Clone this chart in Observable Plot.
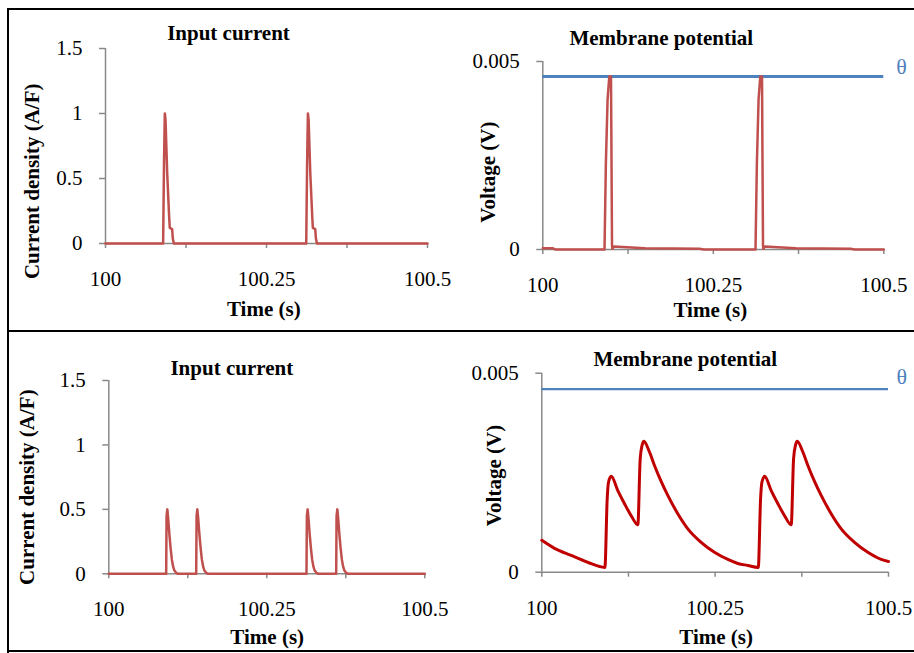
<!DOCTYPE html>
<html><head><meta charset="utf-8">
<script src="https://cdn.jsdelivr.net/npm/d3@7"></script>
<script src="https://cdn.jsdelivr.net/npm/@observablehq/plot@0.6"></script>
<style>
body{margin:0;background:#fff;}
#wrap{position:relative;width:914px;height:653px;overflow:hidden;background:#fff;font-family:"Liberation Serif","Times New Roman",serif;}
#wrap svg{position:absolute;overflow:visible;}
.fr{position:absolute;background:#000;}
</style></head><body><div id="wrap"></div>
<script>
// ---------- data ----------
const xTickValues = [100, 100.125, 100.25, 100.375, 100.5];
const xTickLabels = ["100", "", "100.25", "", "100.5"];
const currentTickValues = [0, 0.5, 1, 1.5];
const currentTickLabels = ["0", "0.5", "1", "1.5"];
const voltageTickValues = [0, 0.005];
const voltageTickLabels = ["0", "0.005"];
const theta = 0.0046;

// top row: input current (A/F)
const topCurrentT = [100, 100.0895, 100.0908, 100.0921, 100.0932, 100.0958, 100.0989, 100.0998, 100.1035, 100.1045, 100.1061,
  100.3117, 100.3130, 100.3143, 100.3154, 100.3180, 100.3211, 100.3220, 100.3257, 100.3267, 100.3283, 100.5];
const topCurrentI = [0, 0, 0.6, 1.0, 0.95, 0.54, 0.2, 0.12, 0.11, 0.04, 0,
  0, 0.6, 1.0, 0.95, 0.54, 0.2, 0.12, 0.11, 0.04, 0, 0];

// top row: membrane potential (V)
const topVoltageT = [100, 100.015, 100.018, 100.0905, 100.0925, 100.0950, 100.0975, 100.1000, 100.1015, 100.1020, 100.1040, 100.1300, 100.1500, 100.2300, 100.2360,
  100.3119, 100.3139, 100.3164, 100.3189, 100.3214, 100.3229, 100.3234, 100.3254, 100.3514, 100.3714, 100.4514, 100.4574, 100.5];
const topVoltageV = [0.00003, 0.00003, 0, 0, 0.0023, 0.0040, 0.0046, 0.0046, 0.0001, 0.00002, 0.00008, 0.00005, 0.00003, 0.00002, 0,
  0, 0.0023, 0.0040, 0.0046, 0.0046, 0.0001, 0.00002, 0.00008, 0.00005, 0.00003, 0.00002, 0, 0];

// bottom row: input current (A/F)
const bottomCurrentT = [100,
  100.0908, 100.0914, 100.0926, 100.0938, 100.0958, 100.0978, 100.0998, 100.1018, 100.1038, 100.1068, 100.1098,
  100.1383, 100.1389, 100.1401, 100.1413, 100.1433, 100.1453, 100.1473, 100.1493, 100.1513, 100.1543, 100.1573,
  100.3128, 100.3134, 100.3146, 100.3158, 100.3178, 100.3198, 100.3218, 100.3238, 100.3258, 100.3288, 100.3318,
  100.3598, 100.3604, 100.3616, 100.3628, 100.3648, 100.3668, 100.3688, 100.3708, 100.3728, 100.3758, 100.3788,
  100.5];
const bottomCurrentI = [0,
  0, 0.45, 0.5, 0.44, 0.31, 0.2, 0.11, 0.055, 0.025, 0.006, 0,
  0, 0.45, 0.5, 0.44, 0.31, 0.2, 0.11, 0.055, 0.025, 0.006, 0,
  0, 0.45, 0.5, 0.44, 0.31, 0.2, 0.11, 0.055, 0.025, 0.006, 0,
  0, 0.45, 0.5, 0.44, 0.31, 0.2, 0.11, 0.055, 0.025, 0.006, 0,
  0];

// bottom row: membrane potential (V)
const bottomVoltageT = [100, 100.0183, 100.0424, 100.0660, 100.0910, 100.0943, 100.0962, 100.1001, 100.1096, 100.1193, 100.1289, 100.1385,
  100.1419, 100.1448, 100.1471, 100.1553, 100.1625, 100.1721, 100.1817, 100.1961, 100.2106, 100.2298, 100.2490, 100.2683, 100.2827, 100.2971,
  100.3122, 100.3155, 100.3174, 100.3213, 100.3308, 100.3405, 100.3501, 100.3597,
  100.3631, 100.3660, 100.3683, 100.3765, 100.3837, 100.3933, 100.4029, 100.4173, 100.4318, 100.4510, 100.4702, 100.4895, 100.5];
const bottomVoltageV = [0.00080, 0.00060, 0.00042, 0.00025, 0.00012, 0.00184, 0.00226, 0.00241, 0.00205, 0.00172, 0.00142, 0.00119,
  0.00285, 0.00320, 0.00329, 0.00302, 0.00268, 0.00228, 0.00193, 0.00147, 0.00109, 0.00075, 0.00050, 0.00032, 0.00022, 0.00017,
  0.00012, 0.00184, 0.00226, 0.00241, 0.00205, 0.00172, 0.00142, 0.00119,
  0.00285, 0.00320, 0.00329, 0.00302, 0.00268, 0.00228, 0.00193, 0.00147, 0.00109, 0.00075, 0.00050, 0.00032, 0.00027];

// ---------- drawing ----------
const gray = "#898989";
const FONT = "Liberation Serif, Times New Roman, serif";
const xLabelMap = new Map(xTickValues.map((v, i) => [v, xTickLabels[i]]));

function panel(o) {
  const data = o.t.map((t, i) => ({t, v: o.v[i]}));
  const yMap = new Map(o.yTicks.map((v, i) => [v, o.yLabels[i]]));
  const marks = [
    Plot.ruleX([100], {y1: o.yDomain[0], y2: o.yDomain[1], stroke: gray, strokeWidth: 1.5}),
    Plot.ruleY([0], {x1: 100, x2: 100.5, stroke: gray, strokeWidth: 1.5}),
    Plot.axisY({ticks: o.yTicks, tickSize: 6, tickPadding: 17, tickFormat: d => yMap.get(d) ?? "", stroke: gray, strokeWidth: 1.5, label: null}),
    Plot.axisX({ticks: xTickValues, tickSize: 5, tickPadding: 22.5, tickFormat: d => xLabelMap.get(d) ?? "", stroke: gray, strokeWidth: 1.5, label: null})
  ];
  if (o.theta != null) {
    marks.push(Plot.ruleY([o.theta], {x1: 100, x2: 100.5, stroke: "#4F81BD", strokeWidth: o.thetaWidth}));
  }
  marks.push(Plot.line(data, {x: "t", y: "v", stroke: o.color, strokeWidth: o.lineWidth, curve: o.curve || "linear"}));
  if (o.theta != null) {
    marks.push(Plot.text([{t: 100.5, v: o.theta}], {x: "t", y: "v", text: () => "θ", dx: o.thetaDx, dy: o.thetaDy,
      fill: "#4F81BD", fontSize: 22, textAnchor: "middle", lineAnchor: "middle"}));
  }
  marks.push(Plot.text([o.title], {text: d => d, frameAnchor: "top", dx: o.titleDx, dy: o.titleDy, fontWeight: "bold", fontSize: 21, textAnchor: "middle", lineAnchor: "middle"}));
  marks.push(Plot.text([o.ylabel], {text: d => d, frameAnchor: "left", rotate: -90, dx: o.ylabelDx, dy: o.ylabelDy, fontWeight: "bold", fontSize: 21, textAnchor: "middle", lineAnchor: "middle"}));
  marks.push(Plot.text(["Time (s)"], {text: d => d, frameAnchor: "bottom", dx: o.xlabelDx, dy: o.xlabelDy, fontWeight: "bold", fontSize: 21, textAnchor: "middle", lineAnchor: "middle"}));

  const svg = Plot.plot({
    width: o.width, height: o.height,
    marginLeft: o.m[0], marginRight: o.m[1], marginTop: o.m[2], marginBottom: o.m[3],
    x: {domain: [100, 100.5], label: null},
    y: {domain: o.yDomain, label: null},
    style: {fontFamily: FONT, fontSize: "21px", color: "black", background: "transparent", overflow: "visible"},
    marks
  });
  svg.style.left = o.left + "px";
  svg.style.top = o.top + "px";
  svg.style.maxWidth = "none";
  document.getElementById("wrap").appendChild(svg);
}

panel({left: 0, top: 0, width: 457, height: 330, m: [105, 30, 48, 87],
  t: topCurrentT, v: topCurrentI, yDomain: [0, 1.5], yTicks: currentTickValues, yLabels: currentTickLabels,
  color: "#C0504D", lineWidth: 2.5,
  title: "Input current", titleDx: -38, titleDy: -15,
  ylabel: "Current density (A/F)", ylabelDx: -73.3, ylabelDy: 35.3,
  xlabelDx: -2.7, xlabelDy: 65.3});

panel({left: 457, top: 0, width: 457, height: 330, m: [85.3, 30.7, 61, 81],
  t: topVoltageT, v: topVoltageV, yDomain: [0, 0.005], yTicks: voltageTickValues, yLabels: voltageTickLabels,
  color: "#C0504D", lineWidth: 2.5, theta: theta, thetaWidth: 3, thetaDx: 17.7, thetaDy: -9.7,
  title: "Membrane potential", titleDx: -52, titleDy: -23.5,
  ylabel: "Voltage (V)", ylabelDx: -54.6, ylabelDy: 16.7,
  xlabelDx: -3, xlabelDy: 60.3});

panel({left: 0, top: 330, width: 457, height: 323, m: [108.3, 32.7, 50, 79.7],
  t: bottomCurrentT, v: bottomCurrentI, yDomain: [0, 1.5], yTicks: currentTickValues, yLabels: currentTickLabels,
  color: "#C0504D", lineWidth: 2.5,
  title: "Input current", titleDx: -35, titleDy: -12.7,
  ylabel: "Current density (A/F)", ylabelDx: -81.1, ylabelDy: 10,
  xlabelDx: 0.4, xlabelDy: 63.4});

panel({left: 457, top: 330, width: 457, height: 323, m: [84.3, 26, 42.7, 81.3],
  t: bottomVoltageT, v: bottomVoltageV, yDomain: [0, 0.005], yTicks: voltageTickValues, yLabels: voltageTickLabels,
  color: "#C00000", lineWidth: 3, curve: "monotone-x", theta: theta, thetaWidth: 2.2, thetaDx: 13.2, thetaDy: -12.2,
  title: "Membrane potential", titleDx: -29.9, titleDy: -14.4,
  ylabel: "Voltage (V)", ylabelDx: -47.5, ylabelDy: 2.8,
  xlabelDx: 1, xlabelDy: 65});

// frame lines
const wrap = document.getElementById("wrap");
[[8, 7.5, 906, 2], [7, 7.5, 2, 645], [8, 329.5, 906, 2.5], [8, 650, 906, 2]].forEach(([l, t, w, h]) => {
  const d = document.createElement("div");
  d.className = "fr";
  Object.assign(d.style, {left: l + "px", top: t + "px", width: w + "px", height: h + "px"});
  wrap.appendChild(d);
});
</script>
</body></html>
